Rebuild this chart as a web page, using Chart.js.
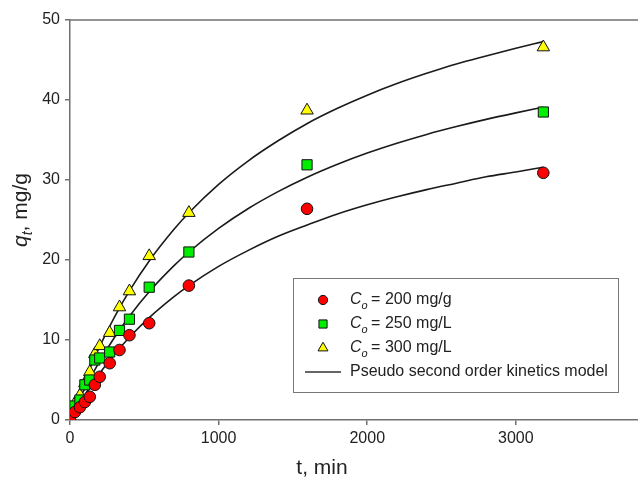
<!DOCTYPE html>
<html lang="en">
<head>
<meta charset="UTF-8">
<title>q_t vs t</title>
<script src="https://cdn.jsdelivr.net/npm/chart.js"></script>
<style>
  html, body { margin: 0; padding: 0; background: #fff; }
  #wrap { width: 638px; height: 478px; }
</style>
</head>
<body>
<div id="wrap"><canvas id="kin" width="638" height="478"></canvas></div>
<script>
// measured points (t in min, q in mg/g)
const times = [0, 33, 67, 100, 133, 167, 200, 267, 333, 400, 533, 800, 1595, 3185];
const q200 = [0, 1.0, 1.6, 2.25, 2.9, 4.4, 5.4, 7.1, 8.75, 10.6, 12.1, 16.8, 26.4, 30.9];
const q250 = [0, 1.75, 2.5, 4.4, 5.0, 7.5, 7.75, 8.5, 11.2, 12.6, 16.6, 21.0, 31.9, 38.5];
const q300 = [0, 2.1, 3.1, 4.6, 6.0, 8.25, 9.25, 10.9, 14.1, 16.1, 20.5, 25.9, 38.7, 46.6];

// model curves
const modelT = [0, 50, 100, 200, 300, 400, 533, 700, 800, 1000, 1200, 1400, 1600, 1800, 2000, 2200, 2400, 2600, 2800, 3000, 3185];
const model200 = [0, 1.62, 3.13, 5.85, 8.23, 10.34, 12.79, 15.42, 16.8, 19.2, 21.2, 22.96, 24.4, 25.75, 26.9, 27.9, 28.8, 29.6, 30.4, 31.0, 31.6];
const model250 = [0, 2.04, 3.94, 7.35, 10.34, 12.98, 16.03, 19.29, 21.0, 23.95, 26.44, 28.55, 30.38, 31.97, 33.37, 34.6, 35.7, 36.68, 37.58, 38.39, 39.1];
const model300 = [0, 2.57, 4.95, 9.21, 12.9, 16.14, 19.88, 23.83, 25.9, 29.45, 32.4, 34.9, 37.1, 38.96, 40.6, 42.05, 43.33, 44.5, 45.5, 46.46, 47.3];

const xTicks = [0, 1000, 2000, 3000];
const yTicks = [0, 10, 20, 30, 40, 50];
const legendLabels = ['= 200 mg/g', '= 250 mg/L', '= 300 mg/L', 'Pseudo second order kinetics model'];

const FONT = '"Liberation Sans", Arial, sans-serif';
const AXIS = '#707070';
const TXT = '#222';

const pts = (xs, ys) => xs.map((x, i) => ({ x: x, y: ys[i] }));

function markerSet(label, ys, style, color, r) {
    return {
        type: 'scatter', label: label, data: pts(times, ys), order: 0,
        pointStyle: style, pointRadius: r, pointHoverRadius: r,
        backgroundColor: color, borderColor: '#111', borderWidth: 1
    };
}
function modelSet(ys) {
    return {
        type: 'line', label: 'model', data: pts(modelT, ys), order: 1,
        borderColor: '#1a1a1a', borderWidth: 1.6, pointRadius: 0,
        cubicInterpolationMode: 'monotone', fill: false
    };
}

const markers = [
    { style: 'circle', color: '#ff0000', r: 5.8 },
    { style: 'rect', color: '#00ee00', r: 7.2 },
    { style: 'triangle', color: '#ffff00', r: 7.2 }
];

// titles, frame top line and the legend box
const decor = {
    id: 'decor',
    afterDraw(chart) {
        const ctx = chart.ctx;
        const a = chart.chartArea;
        ctx.save();
        ctx.strokeStyle = AXIS;
        ctx.lineWidth = 1.5;
        ctx.beginPath();
        ctx.moveTo(a.left, a.top);
        ctx.lineTo(a.right, a.top);
        ctx.stroke();

        ctx.fillStyle = TXT;
        // x title
        ctx.font = '21px ' + FONT;
        ctx.textAlign = 'center';
        ctx.textBaseline = 'alphabetic';
        ctx.fillText('t, min', 322, 474);

        // y title: q_t, mg/g
        ctx.save();
        ctx.translate(27, 210);
        ctx.rotate(-Math.PI / 2);
        ctx.textAlign = 'left';
        const f1 = 'italic 21px ' + FONT, f2 = 'italic 14px ' + FONT, f3 = '21px ' + FONT;
        ctx.font = f1; const w1 = ctx.measureText('q').width;
        ctx.font = f2; const w2 = ctx.measureText('t').width;
        ctx.font = f3; const w3 = ctx.measureText(', mg/g').width;
        let x = -(w1 + w2 + w3) / 2;
        ctx.font = f1; ctx.fillText('q', x, 0); x += w1;
        ctx.font = f2; ctx.fillText('t', x, 5); x += w2;
        ctx.font = f3; ctx.fillText(', mg/g', x, 0);
        ctx.restore();

        // legend
        ctx.textAlign = 'left';
        ctx.strokeStyle = '#777';
        ctx.lineWidth = 1;
        ctx.fillStyle = '#fff';
        ctx.fillRect(293.5, 278.5, 325, 114);
        ctx.strokeRect(293.5, 278.5, 325, 114);
        const rowsY = [300, 324, 348, 372];
        for (let i = 0; i < 3; i++) {
            const m = markers[i];
            ctx.fillStyle = m.color;
            ctx.strokeStyle = '#111';
            ctx.lineWidth = 1;
            Chart.helpers.drawPoint(ctx, { pointStyle: m.style, radius: m.r * 0.8, rotation: 0, borderWidth: 1 }, 323, rowsY[i]);
            ctx.fillStyle = TXT;
            ctx.textBaseline = 'middle';
            ctx.font = 'italic 16px ' + FONT;
            ctx.fillText('C', 350, rowsY[i]);
            const cw = ctx.measureText('C').width;
            ctx.font = 'italic 11px ' + FONT;
            ctx.fillText('o', 350 + cw, rowsY[i] + 6);
            const ow = ctx.measureText('o').width;
            ctx.font = '16px ' + FONT;
            ctx.fillText(' ' + legendLabels[i], 350 + cw + ow - 1, rowsY[i]);
        }
        ctx.strokeStyle = '#333';
        ctx.lineWidth = 1.5;
        ctx.beginPath();
        ctx.moveTo(305, rowsY[3]);
        ctx.lineTo(341, rowsY[3]);
        ctx.stroke();
        ctx.fillStyle = TXT;
        ctx.font = '16px ' + FONT;
        ctx.fillText(legendLabels[3], 350, rowsY[3]);
        ctx.restore();
    }
};

new Chart(document.getElementById('kin').getContext('2d'), {
    type: 'scatter',
    data: {
        datasets: [
            markerSet('C0 = 200 mg/g', q200, markers[0].style, markers[0].color, markers[0].r),
            markerSet('C0 = 250 mg/L', q250, markers[1].style, markers[1].color, markers[1].r),
            markerSet('C0 = 300 mg/L', q300, markers[2].style, markers[2].color, markers[2].r),
            modelSet(model200),
            modelSet(model250),
            modelSet(model300)
        ]
    },
    options: {
        responsive: false,
        animation: false,
        layout: { autoPadding: false, padding: { top: 20, right: 0, left: 0, bottom: 0 } },
        plugins: { legend: { display: false }, tooltip: { enabled: false } },
        scales: {
            x: {
                type: 'linear', min: 0, max: 3822,
                afterBuildTicks: ax => { ax.ticks = xTicks.map(v => ({ value: v })); },
                afterFit: ax => { ax.height = 58; },
                grid: { drawOnChartArea: false, drawTicks: true, tickLength: 5, color: AXIS, lineWidth: 1.5 },
                border: { display: true, color: AXIS, width: 1.5 },
                ticks: { color: TXT, padding: 4, maxRotation: 0, font: { family: FONT, size: 16 },
                         callback: v => String(v) }
            },
            y: {
                type: 'linear', min: 0, max: 50,
                afterBuildTicks: ax => { ax.ticks = yTicks.map(v => ({ value: v })); },
                afterFit: ax => { ax.width = 70; },
                grid: { drawOnChartArea: false, drawTicks: true, tickLength: 5, color: AXIS, lineWidth: 1.5 },
                border: { display: true, color: AXIS, width: 1.5 },
                ticks: { color: TXT, padding: 5, font: { family: FONT, size: 16 }, callback: v => String(v) }
            }
        }
    },
    plugins: [decor]
});
</script>
</body>
</html>
